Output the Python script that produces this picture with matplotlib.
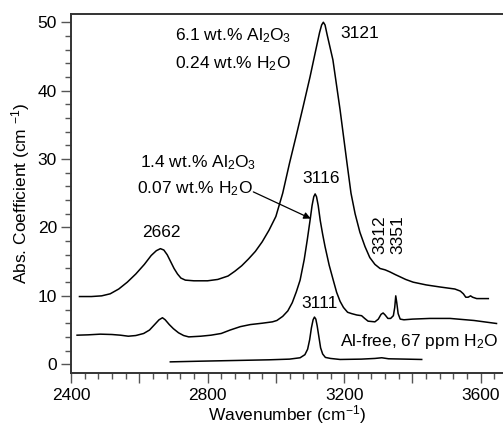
import matplotlib
matplotlib.use("Agg")
import matplotlib.pyplot as plt
from matplotlib.ticker import MultipleLocator, FuncFormatter

plt.rcParams['font.family'] = ['Liberation Sans', 'DejaVu Sans']
plt.rcParams['mathtext.fontset'] = 'custom'
plt.rcParams['mathtext.rm'] = 'Liberation Sans'
plt.rcParams['mathtext.it'] = 'Liberation Sans'

# 6.1 wt.% Al2O3 sample
wn_high = [2425, 2460, 2490, 2515, 2540, 2565, 2590, 2615, 2635, 2650, 2662, 2672, 2682, 2692,
           2702, 2712, 2722, 2735, 2760, 2800, 2830, 2860, 2880, 2900, 2920, 2940, 2960, 2980,
           3000, 3020, 3040, 3060, 3080, 3100, 3115, 3128, 3134, 3139, 3144, 3150, 3167, 3188,
           3208, 3220, 3232, 3246, 3261, 3275, 3290, 3305, 3320, 3334, 3350, 3363, 3380, 3402,
           3440, 3480, 3524, 3540, 3549, 3556, 3563, 3570, 3576, 3588, 3622]
ab_high = [9.9, 9.9, 10.0, 10.3, 11.0, 12.0, 13.2, 14.6, 15.9, 16.6, 16.9, 16.7, 16.0, 15.0,
           14.0, 13.2, 12.6, 12.3, 12.2, 12.2, 12.4, 12.9, 13.6, 14.4, 15.4, 16.5, 17.9, 19.6,
           21.6, 25.0, 29.4, 33.5, 37.7, 42.0, 45.5, 48.5, 49.6, 50.0, 49.6, 48.2, 44.5, 37.2,
           29.5, 25.0, 22.0, 19.3, 17.2, 15.6, 14.6, 14.0, 13.8, 13.5, 13.1, 12.8, 12.4, 12.0,
           11.6, 11.3, 11.0, 10.7, 10.3, 9.8, 9.8, 10.0, 9.8, 9.6, 9.6]

# 1.4 wt.% Al2O3 sample
wn_mid = [2418, 2450, 2486, 2520, 2545, 2568, 2590, 2613, 2630, 2645, 2658, 2668, 2676, 2688,
          2700, 2715, 2730, 2745, 2780, 2810, 2840, 2866, 2896, 2925, 2960, 2990, 3003, 3020,
          3035, 3048, 3060, 3071, 3083, 3092, 3100, 3106, 3111, 3115, 3119, 3124, 3130, 3137,
          3144, 3156, 3168, 3178, 3188, 3198, 3210, 3222, 3237, 3251, 3260, 3270, 3290, 3300,
          3308, 3314, 3320, 3328, 3336, 3344, 3348, 3351, 3354, 3358, 3364, 3375, 3400, 3451,
          3510, 3580, 3646]
ab_mid = [4.25, 4.3, 4.4, 4.35, 4.25, 4.1, 4.2, 4.5, 5.0, 5.8, 6.5, 6.8, 6.5, 5.8,
          5.2, 4.6, 4.2, 4.0, 4.1, 4.25, 4.5, 5.0, 5.5, 5.8, 6.0, 6.2, 6.4, 7.0,
          7.8, 9.0, 10.6, 12.3, 15.3, 18.2, 21.0, 23.2, 24.5, 24.9, 24.5, 23.2, 21.0, 19.0,
          17.2, 14.5, 12.3, 10.5, 9.2, 8.3, 7.6, 7.4, 7.2, 7.1, 6.7, 6.3, 6.2, 6.6,
          7.3, 7.5, 7.2, 6.7, 6.7, 7.1, 8.3, 10.0, 9.0, 7.4, 6.6, 6.5, 6.6, 6.7,
          6.7, 6.4, 5.96]

# Al-free sample
wn_low = [2691, 2780, 2880, 2980, 3040, 3071, 3085, 3093, 3099, 3104, 3109, 3113, 3117, 3121,
          3126, 3131, 3137, 3145, 3160, 3188, 3250, 3290, 3310, 3330, 3380, 3427]
ab_low = [0.35, 0.45, 0.55, 0.65, 0.75, 0.95, 1.4, 2.2, 3.6, 5.3, 6.5, 6.9, 6.6, 5.6,
          4.0, 2.4, 1.5, 1.0, 0.85, 0.7, 0.75, 0.85, 0.95, 0.8, 0.75, 0.7]

xticks_major = [2400, 2600, 2800, 3000, 3200, 3400, 3600]
xtick_labelled = [2400, 2800, 3200, 3600]
yticks_major = [0, 10, 20, 30, 40, 50]

fig = plt.figure(figsize=(5.03, 4.25), dpi=100)
ax = fig.add_axes([0.141, 0.122, 0.859, 0.845])

for wn, ab in [(wn_high, ab_high), (wn_mid, ab_mid), (wn_low, ab_low)]:
    ax.plot(wn, ab, color='black', lw=1.1, solid_joinstyle='round')

ax.set_xlim(2400, 3665)
ax.set_ylim(-1.3, 51.2)
ax.set_xticks(xticks_major)
ax.xaxis.set_major_formatter(FuncFormatter(lambda v, p: f"{int(v)}" if int(round(v)) in xtick_labelled else ""))
ax.xaxis.set_minor_locator(MultipleLocator(40))
ax.set_yticks(yticks_major)
ax.yaxis.set_minor_locator(MultipleLocator(2))

ax.spines['right'].set_visible(False)
for s in ['left', 'bottom', 'top']:
    ax.spines[s].set_linewidth(1.4)
    ax.spines[s].set_color('#333333')
fs = 12.5
ax.tick_params(which='major', direction='out', length=7, width=1.0, color='#555555', labelsize=fs, pad=3)
ax.tick_params(which='minor', direction='out', length=4, width=1.0, color='#555555')
ax.tick_params(axis='x', which='major', pad=4)

ax.set_xlabel(r'Wavenumber (cm$\mathregular{^{-1}}$)', fontsize=fs, labelpad=-0.5)
ax.set_ylabel(r'Abs. Coefficient (cm $\mathregular{^{-1}}$)', fontsize=fs, labelpad=4)

ax.text(2705, 48.0, r'6.1 wt.% Al$\mathregular{_2}$O$\mathregular{_3}$', fontsize=fs, va='center')
ax.text(2705, 43.9, r'0.24 wt.% H$\mathregular{_2}$O', fontsize=fs, va='center')
ax.text(2601, 29.4, r'1.4 wt.% Al$\mathregular{_2}$O$\mathregular{_3}$', fontsize=fs, va='center')
ax.text(2594, 25.7, r'0.07 wt.% H$\mathregular{_2}$O', fontsize=fs, va='center')
ax.text(3188, 48.4, '3121', fontsize=fs, va='center')
ax.text(3133, 27.2, '3116', fontsize=fs, va='center', ha='center')
ax.text(2664, 19.2, '2662', fontsize=fs, va='center', ha='center')
ax.text(3127, 8.9, '3111', fontsize=fs, va='center', ha='center')
ax.text(3305, 18.9, '3312', fontsize=fs, va='center', ha='center', rotation=90)
ax.text(3356, 18.9, '3351', fontsize=fs, va='center', ha='center', rotation=90)
ax.text(3188, 3.3, r'Al-free, 67 ppm H$\mathregular{_2}$O', fontsize=fs, va='center')

ax.annotate('', xy=(3102, 21.3), xytext=(2934, 25.2),
            arrowprops=dict(arrowstyle='-|>', color='black', lw=0.9, mutation_scale=10,
                            shrinkA=0, shrinkB=0))

fig.savefig('out.png', dpi=100)
